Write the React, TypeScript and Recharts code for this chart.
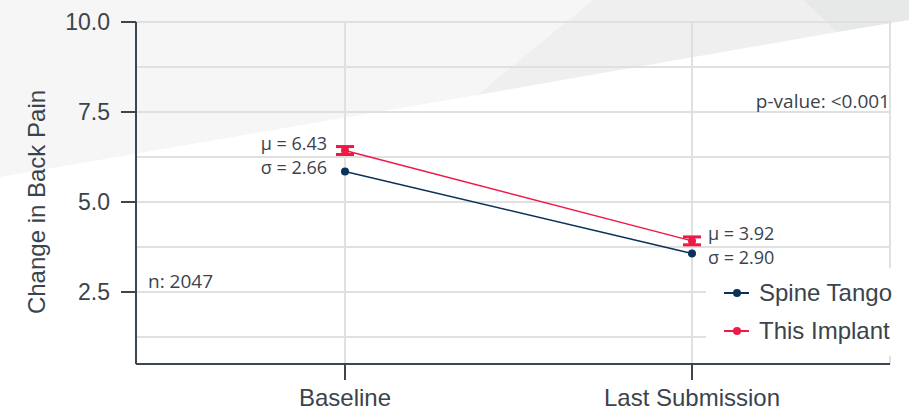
import {
  LineChart, Line, XAxis, YAxis, CartesianGrid, ErrorBar, LabelList, Legend, Customized
} from 'recharts'

const categories = ['Baseline', 'Last Submission']
const spineTango = [5.85, 3.57]
const thisImplant = [6.43, 3.92]
const implantErr = [0.11, 0.11]
const implantSd = [2.66, 2.90]
const yTicks = [2.5, 5, 7.5, 10]
const gridValues = [1.25, 2.5, 3.75, 5, 6.25, 7.5, 8.75, 10]
const sampleSize = 2047
const pValue = '<0.001'

const BLUE = '#0c305c'
const RED = '#ef1846'
const TEXT = '#3b434c'
const AXIS = '#3c4650'
const GRID = '#e0e0e0'
const SANS = '"Liberation Sans", Arial, sans-serif'
const OPEN = '"Open Sans", sans-serif'

const data = categories.map((name, i) => ({
  name,
  spine: spineTango[i],
  implant: thisImplant[i],
  err: implantErr[i],
}))

function StatLabel(props: any) {
  const vb = props.viewBox || {}
  const x = props.x ?? vb.x
  const y = props.y ?? vb.y
  const i = props.index
  const left = i === 0
  const tx = left ? x - 18 : x + 16
  const anchor = left ? 'end' : 'start'
  return (
    <g fontFamily={OPEN} fontSize={18} fill={TEXT}>
      <text x={tx} y={y - 7} dy="0.35em" textAnchor={anchor}>
        {`μ = ${thisImplant[i].toFixed(2)}`}
      </text>
      <text x={tx} y={y + 17} dy="0.35em" textAnchor={anchor}>
        {`σ = ${implantSd[i].toFixed(2)}`}
      </text>
    </g>
  )
}

function LegendBox({ payload }: any) {
  return (
    <div style={{ background: '#fff', paddingTop: 6, height: '100%', boxSizing: 'border-box' }}>
      {(payload || []).map((p: any) => (
        <div key={p.value} style={{ display: 'flex', alignItems: 'center', height: 38 }}>
          <svg width={53} height={38} style={{ flex: 'none' }}>
            <line x1={18} y1={19} x2={43} y2={19} stroke={p.color} strokeWidth={2} />
            <circle cx={31} cy={19} r={4} fill={p.color} />
          </svg>
          <span style={{ fontFamily: SANS, fontSize: 24, color: TEXT, whiteSpace: 'nowrap' }}>{p.value}</span>
        </div>
      ))}
    </div>
  )
}

function Notes() {
  return (
    <g>
      <text x={890} y={101} dy="0.35em" textAnchor="end" fontFamily={OPEN} fontSize={19} fill={TEXT}>
        {`p-value: ${pValue}`}
      </text>
      <text x={148} y={281} dy="0.35em" fontFamily={OPEN} fontSize={19} fill={TEXT}>
        {`n: ${sampleSize}`}
      </text>
      <text
        x={37} y={202} dy="0.35em" textAnchor="middle" transform="rotate(-90 37 202)"
        fontFamily={SANS} fontSize={24} fill={TEXT}
      >
        Change in Back Pain
      </text>
    </g>
  )
}

export default function App() {
  return (
    <div style={{ position: 'absolute', left: 0, top: 0, width: 909, height: 412, background: '#fff' }}>
      <svg width={909} height={412} style={{ position: 'absolute', left: 0, top: 0 }}>
        <polygon points="0,0 593,0 477,95 0,177" fill="#f6f6f6" />
        <polygon points="593,0 803,0 837,32 477,95" fill="#efefef" />
        <polygon points="803,0 909,0 909,20 837,32" fill="#e7e8e8" />
      </svg>
      <LineChart
        width={909}
        height={412}
        data={data}
        margin={{ top: 22, right: 19, bottom: 0, left: 0 }}
        style={{ position: 'absolute', left: 0, top: 0 }}
      >
        <CartesianGrid stroke={GRID} strokeWidth={2} horizontalValues={gridValues} />
        <XAxis
          dataKey="name"
          scale="point"
          padding={{ left: 209, right: 198 }}
          height={48}
          stroke={AXIS}
          strokeWidth={2}
          tickSize={16}
          tickMargin={9}
          tick={{ fill: TEXT, fontSize: 24, fontFamily: SANS }}
        />
        <YAxis
          type="number"
          domain={[0.5, 10]}
          ticks={yTicks}
          width={136}
          stroke={AXIS}
          strokeWidth={2}
          tickSize={15}
          tickMargin={11}
          tickFormatter={(v: number) => v.toFixed(1)}
          tick={{ fill: TEXT, fontSize: 23, fontFamily: SANS }}
        />
        <Line
          name="Spine Tango"
          dataKey="spine"
          stroke={BLUE}
          strokeWidth={1.5}
          dot={{ r: 4, fill: BLUE, stroke: BLUE, strokeWidth: 0 }}
          activeDot={false}
          isAnimationActive={false}
        />
        <Line
          name="This Implant"
          dataKey="implant"
          stroke={RED}
          strokeWidth={1.5}
          dot={{ r: 4, fill: RED, stroke: RED, strokeWidth: 0 }}
          activeDot={false}
          isAnimationActive={false}
        >
          <ErrorBar dataKey="err" direction="y" width={9} strokeWidth={3} stroke={RED} isAnimationActive={false} />
          <LabelList dataKey="implant" content={<StatLabel />} />
        </Line>
        <Legend
          layout="vertical"
          align="center"
          verticalAlign="middle"
          content={<LegendBox />}
          wrapperStyle={{ left: 706, top: 268, width: 200, height: 88 }}
        />
        <Customized component={<Notes />} />
      </LineChart>
    </div>
  )
}
